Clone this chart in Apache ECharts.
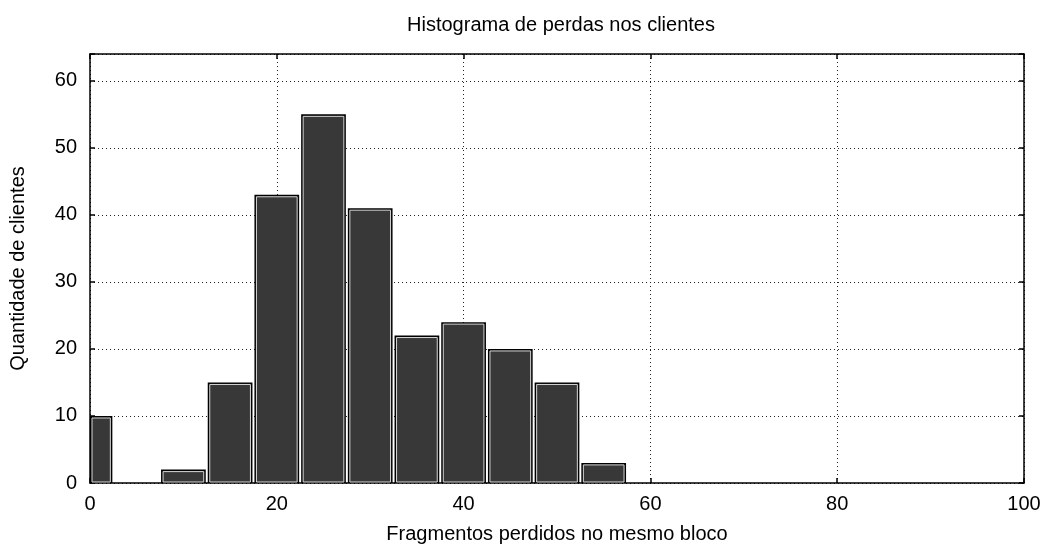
<!DOCTYPE html>
<html>
<head>
<meta charset="utf-8">
<script src="https://cdn.jsdelivr.net/npm/echarts@6/dist/echarts.min.js"></script>
<style>
    html, body {margin: 0; padding: 0; background: #fff;}
    #chart {width: 1046px; height: 549px;}
</style>
</head>
<body>
<div id="chart"></div>
<script>
var binStart = [-2.5, 7.5, 12.5, 17.5, 22.5, 27.5, 32.5, 37.5, 42.5, 47.5, 52.5];
var binEnd = [2.5, 12.5, 17.5, 22.5, 27.5, 32.5, 37.5, 42.5, 47.5, 52.5, 57.5];
var counts = [10, 2, 15, 43, 55, 41, 22, 24, 20, 15, 3];
var xTicks = [0, 20, 40, 60, 80, 100];
var yTicks = [0, 10, 20, 30, 40, 50, 60];

var font = 'Liberation Sans, Arial, sans-serif';

var data = [];
for (var i = 0; i < counts.length; i++) {
    data.push([binStart[i], binEnd[i], counts[i]]);
}

var myChart = echarts.init(document.getElementById('chart'));

// axes on top / right only draw the frame and the inward ticks
function frameAxis(pos, isX) {
    return {
        type: 'value',
        position: pos,
        min: isX ? xTicks[0] : yTicks[0],
        max: isX ? 100 : 64,
        interval: isX ? 20 : 10,
        axisLine: {show: true, onZero: false, lineStyle: {color: '#000', width: 1.5}},
        axisTick: {show: true, inside: true, length: 5, lineStyle: {color: '#000', width: 1.5}},
        axisLabel: {show: false},
        splitLine: {show: false}
    };
}

myChart.setOption({
    animation: false,
    title: {
        text: 'Histograma de perdas nos clientes',
        left: 556,
        top: 10,
        textAlign: 'center',
        textStyle: {fontFamily: font, fontSize: 20, fontWeight: 'normal', color: '#000'}
    },
    grid: {left: 90, right: 22, top: 54, bottom: 63},
    xAxis: [
        {
            type: 'value',
            position: 'bottom',
            min: 0,
            max: 100,
            interval: 20,
            name: 'Fragmentos perdidos no mesmo bloco',
            nameLocation: 'middle',
            nameGap: 41,
            nameTextStyle: {fontFamily: font, fontSize: 20, color: '#000'},
            axisLine: {show: true, onZero: false, lineStyle: {color: '#000', width: 1.5}},
            axisTick: {show: true, inside: true, length: 5, lineStyle: {color: '#000', width: 1.5}},
            axisLabel: {fontFamily: font, fontSize: 20, color: '#000', margin: 11},
            splitLine: {show: true, lineStyle: {type: [1, 3], color: '#222', width: 1}}
        },
        frameAxis('top', true)
    ],
    yAxis: [
        {
            type: 'value',
            position: 'left',
            min: 0,
            max: 64,
            interval: 10,
            name: 'Quantidade de clientes',
            nameLocation: 'middle',
            nameGap: 62,
            nameTextStyle: {fontFamily: font, fontSize: 20, color: '#000'},
            axisLine: {show: true, onZero: false, lineStyle: {color: '#000', width: 1.5}},
            axisTick: {show: true, inside: true, length: 5, lineStyle: {color: '#000', width: 1.5}},
            axisLabel: {
                fontFamily: font, fontSize: 20, color: '#000', margin: 13,
                formatter: function (v) { return yTicks.indexOf(v) >= 0 ? v : ''; }
            },
            splitLine: {show: true, lineStyle: {type: [1, 3], color: '#222', width: 1}}
        },
        frameAxis('right', false)
    ],
    series: [
        {
            type: 'custom',
            xAxisIndex: 0,
            yAxisIndex: 0,
            clip: true,
            data: data,
            renderItem: function (params, api) {
                var p0 = api.coord([api.value(0), api.value(2)]);
                var p1 = api.coord([api.value(1), 0]);
                var rect = echarts.graphic.clipRectByRect({
                    x: p0[0] + 1,
                    y: p0[1],
                    width: p1[0] - p0[0] - 2,
                    height: p1[1] - p0[1]
                }, {
                    x: params.coordSys.x,
                    y: params.coordSys.y,
                    width: params.coordSys.width,
                    height: params.coordSys.height
                });
                if (!rect) return;
                return {
                    type: 'group',
                    children: [
                        {type: 'rect', shape: rect, style: {fill: '#000'}},
                        {
                            type: 'rect',
                            shape: {x: rect.x + 2, y: rect.y + 2, width: rect.width - 4, height: rect.height - 3},
                            style: {fill: '#383838', stroke: '#d8d8d8', lineWidth: 1}
                        }
                    ]
                };
            }
        }
    ]
});
</script>
</body>
</html>
